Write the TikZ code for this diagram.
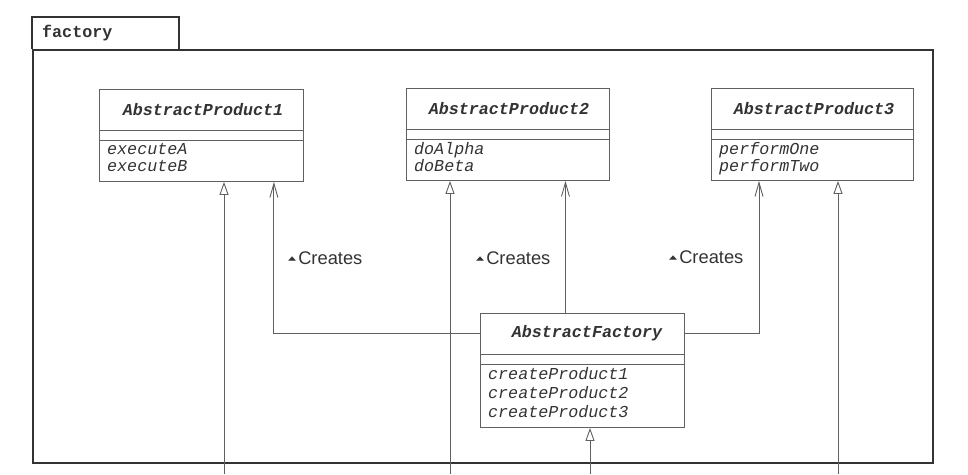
\documentclass[tikz,border=0pt]{standalone}
\usepackage{fontspec}
\setmainfont{Liberation Serif}
\setsansfont{Liberation Sans}
\setmonofont{Liberation Mono}
\newfontfamily\symfont{DejaVu Sans}
\usetikzlibrary{arrows.meta,calc}
\definecolor{ink}{HTML}{333333}
\definecolor{lin}{HTML}{606060}
\newcommand{\dirmark}{\raisebox{4pt}{\scalebox{1}[0.55]{\symfont\fontsize{10.5}{10.5}\selectfont ▲}}\hspace{2pt}}
\begin{document}
\begin{tikzpicture}[x=1pt,y=-1pt,
  classbox/.style={draw=lin, line width=0.9pt, inner sep=0pt, anchor=north west},
  cname/.style={font=\fontsize{16.7}{17}\selectfont\ttfamily\bfseries\itshape, text=ink, inner sep=0pt},
  meth/.style={font=\fontsize{16.7}{17}\selectfont\ttfamily\itshape, text=ink, inner sep=0pt, anchor=north west, align=left},
  lbl/.style={font=\fontsize{18.3}{18}\selectfont\sffamily, text=ink, inner sep=0pt, anchor=west},
  divider/.style={draw=lin, line width=0.9pt},
  assoc/.style={draw=lin, line width=0.9pt, -{Straight Barb[length=14pt,width=8pt]}},
  gen/.style={draw=lin, line width=0.9pt, -{Triangle[open,length=13pt,width=9pt,fill=white]}},
  pkg/.style={draw=ink, line width=1.8pt, inner sep=0pt, anchor=north west},
]
\useasboundingbox (0,0) rectangle (968,474);

% package
\node[pkg, minimum width=900pt, minimum height=413pt] (pkgbody) at (32,49) {};
\draw[draw=ink, line width=1.8pt] (pkgbody.north west) -- (32,17) -- (179,17) -- (179,49);
\node[font=\fontsize{16.7}{17}\selectfont\ttfamily\bfseries, text=ink, inner sep=0pt, anchor=west] (pkgname) at (42,33) {factory};

% AbstractProduct1
\node[classbox, minimum width=204pt, minimum height=92pt] (ap1) at (99,89) {};
\draw[divider] (ap1.west |- 0,130) -- (ap1.east |- 0,130);
\draw[divider] (ap1.west |- 0,140) -- (ap1.east |- 0,140);
\node[cname] (ap1n) at (203,110) {AbstractProduct1};
\node[meth] (ap1m) at (107,143) {executeA\\executeB};

% AbstractProduct2
\node[classbox, minimum width=203pt, minimum height=92pt] (ap2) at (406,88) {};
\draw[divider] (ap2.west |- 0,129) -- (ap2.east |- 0,129);
\draw[divider] (ap2.west |- 0,139) -- (ap2.east |- 0,139);
\node[cname] (ap2n) at (509,109) {AbstractProduct2};
\node[meth] (ap2m) at (414,142) {doAlpha\\doBeta};

% AbstractProduct3
\node[classbox, minimum width=202pt, minimum height=92pt] (ap3) at (711,88) {};
\draw[divider] (ap3.west |- 0,129) -- (ap3.east |- 0,129);
\draw[divider] (ap3.west |- 0,139) -- (ap3.east |- 0,139);
\node[cname] (ap3n) at (814,109) {AbstractProduct3};
\node[meth] (ap3m) at (719,142) {performOne\\performTwo};

% AbstractFactory
\node[classbox, minimum width=204pt, minimum height=114pt] (af) at (480,313) {};
\draw[divider] (af.west |- 0,354) -- (af.east |- 0,354);
\draw[divider] (af.west |- 0,364) -- (af.east |- 0,364);
\node[cname] (afn) at (587,333.5) {AbstractFactory};
\node[meth, font=\fontsize{16.7}{19}\selectfont\ttfamily\itshape] (afm) at (488,367) {createProduct1\\createProduct2\\createProduct3};

% associations
\draw[assoc] (af.west |- afn) -| ([xshift=-30pt]ap1.south east);
\draw[assoc] ([xshift=-17pt]af.north) -- ([xshift=-17pt]af.north |- ap2.south);
\draw[assoc] (af.east |- afn) -| ([xshift=48pt]ap3.south west);

\node[lbl] (c1) at (288,258) {\dirmark Creates};
\node[lbl] (c2) at (476,258) {\dirmark Creates};
\node[lbl] (c3) at (669,257) {\dirmark Creates};

% generalizations
\coordinate (b1) at (224,474);
\coordinate (b2) at (450,474);
\coordinate (b3) at (838,474);
\coordinate (b4) at (590,474);
\draw[gen] (b1) -- (b1 |- ap1.south);
\draw[gen] (b2) -- (b2 |- ap2.south);
\draw[gen] (b3) -- (b3 |- ap3.south);
\draw[gen] (b4) -- (b4 |- af.south);
\end{tikzpicture}
\end{document}
